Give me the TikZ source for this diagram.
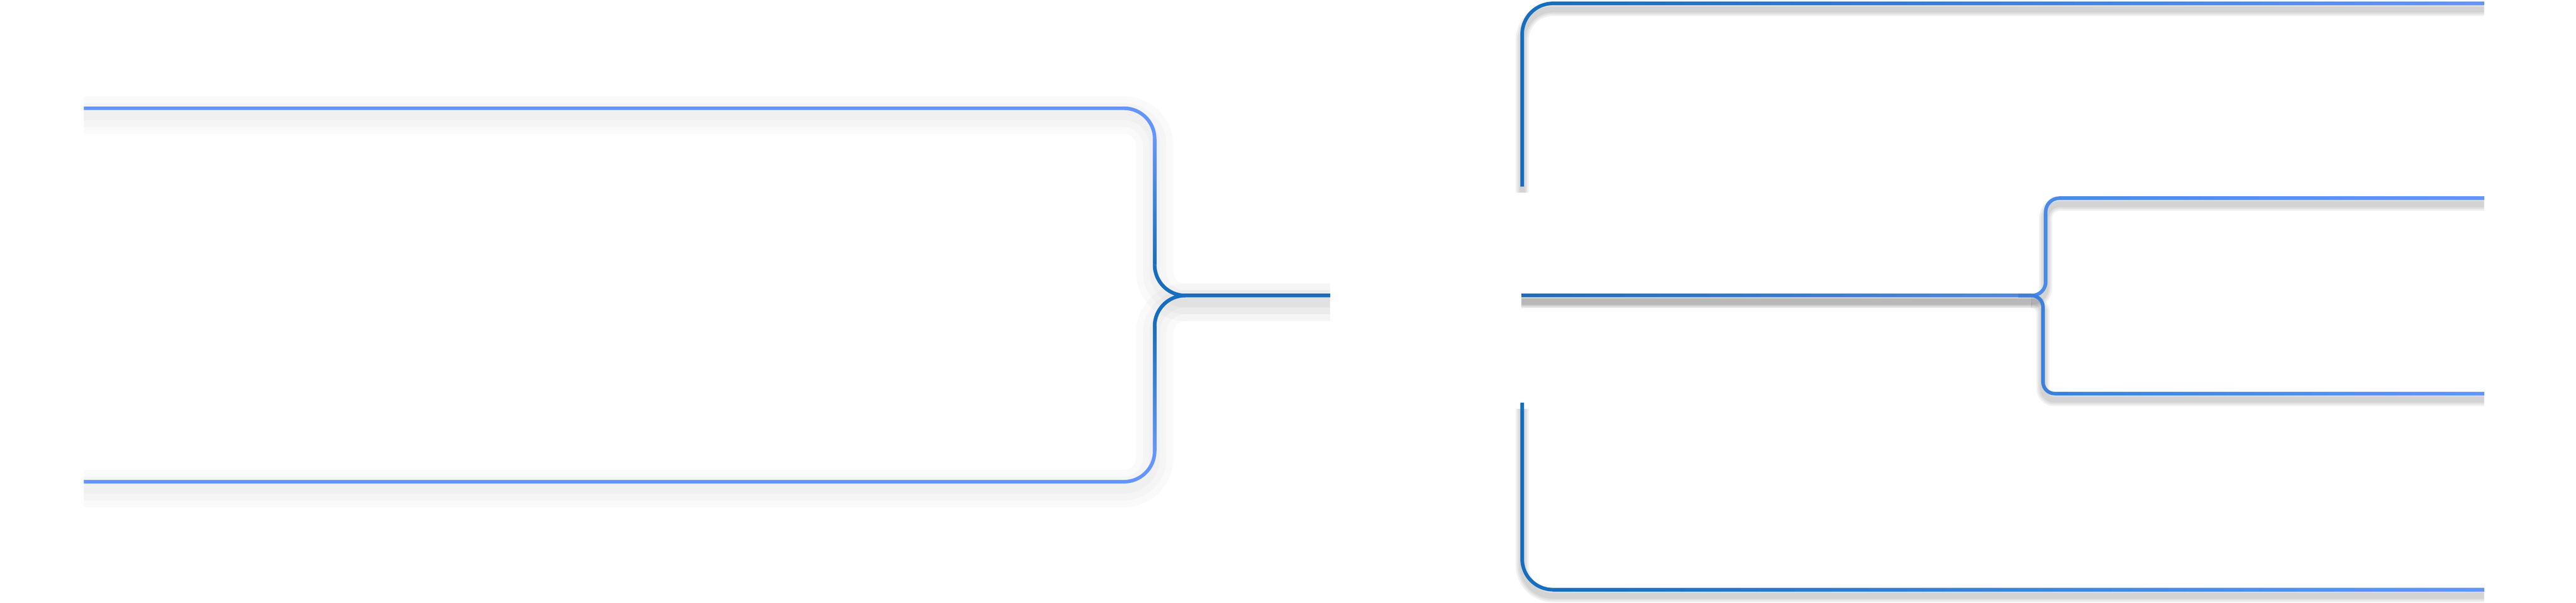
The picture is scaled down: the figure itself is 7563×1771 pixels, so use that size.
\documentclass[tikz,border=0pt]{standalone}
\definecolor{dkb}{RGB}{23,110,190}
\definecolor{ltb}{RGB}{100,149,255}
\definecolor{mdb}{RGB}{74,138,232}
\definecolor{mdc}{RGB}{60,128,220}
\tikzset{
  lw/.style={line width=1.05pt, line join=round},
  lsh/.style={draw=black, opacity=0.02, transform canvas={yshift=-2pt}},
  rsh/.style={draw=black, opacity=#1, transform canvas={yshift=-1.8pt}},
}
% horizontal gradient stroke: x1 < x2, y, colour at x1, colour at x2, pieces
\newcommand\hgrad[6]{%
  \foreach \i in {1,...,#6}{%
    \pgfmathsetmacro\dd{(#2-#1)/#6}%
    \pgfmathsetmacro\xa{#1+\dd*(\i-1)}%
    \pgfmathsetmacro\xb{min(#1+\dd*\i+3,#2)}%
    \pgfmathsetmacro\pp{100*(\i-0.5)/#6}%
    \draw[lw, draw={#5!\pp!#4}] (\xa,#3) -- (\xb,#3);
  }}
% vertical gradient stroke: x, y1 < y2, colour at y1, colour at y2, pieces
\newcommand\vgrad[6]{%
  \foreach \i in {1,...,#6}{%
    \pgfmathsetmacro\dd{(#3-#2)/#6}%
    \pgfmathsetmacro\ya{#2+\dd*(\i-1)}%
    \pgfmathsetmacro\yb{min(#2+\dd*\i+3,#3)}%
    \pgfmathsetmacro\pp{100*(\i-0.5)/#6}%
    \draw[lw, draw={#5!\pp!#4}] (#1,\ya) -- (#1,\yb);
  }}
\begin{document}
\begin{tikzpicture}[x=0.1pt, y=-0.1pt]
\fill[white] (0,0) rectangle (7563,1771);
\useasboundingbox (0,0) rectangle (7563,1771);
% named points
\coordinate (L1) at (246,318);
\coordinate (L2) at (246,1415);
\coordinate (LJ) at (3390,868);
\coordinate (LE) at (3905,868);
\coordinate (RT) at (7293,10);
\coordinate (RTv) at (4469,548);
\coordinate (RBv) at (4469,1183);
\coordinate (RB) at (7293,1732);
\coordinate (RM) at (4467,868);
\coordinate (RJ) at (5965,868);
\coordinate (SJ) at (5925,868);
\coordinate (SUv) at (6006,582);
\coordinate (SU) at (7293,582);
\coordinate (SLv) at (5998,1156);
\coordinate (SL) at (7293,1156);
% ---- shadows
\foreach \w in {3,7,11}{
  \draw[lsh, line width=\w pt, rounded corners=9pt] (L1) -| (LJ) -- (LE);
  \draw[lsh, line width=\w pt, rounded corners=9pt] (L2) -| (LJ) -- (LE);
}
\foreach \w in {1.8,2.8,3.8}{
  \draw[rsh=0.06, line width=\w pt, rounded corners=9pt] (RT) -| (RTv);
  \draw[rsh=0.06, line width=\w pt, rounded corners=9pt] (RBv) |- (RB);
  \draw[rsh=0.1, line width=\w pt] (RM) -- (RJ);
  \draw[rsh=0.06, line width=\w pt, rounded corners=4pt] (RJ) -| (SUv) -- (SU);
  \draw[rsh=0.06, line width=\w pt, rounded corners=3.3pt] (RJ) -| (SLv) -- (SL);
}
% ---- left bracket
\draw[ltb, lw, rounded corners=9pt] (L1) -| (LJ) -- (LE);
\draw[ltb, lw, rounded corners=9pt] (L2) -| (LJ) -- (LE);
\vgrad{3390}{408}{778}{ltb}{dkb}{40}
\vgrad{3390}{958}{1325}{dkb}{ltb}{40}
\draw[dkb, lw, rounded corners=9pt] (3390,778) -- (LJ) -- (3480,868);
\draw[dkb, lw, rounded corners=9pt] (3390,958) -- (LJ) -- (3480,868);
\draw[dkb, lw] (3478,868) -- (LE);
% ---- right big bracket
\draw[dkb, lw, rounded corners=9pt] (RT) -| (RTv);
\hgrad{4559}{7293}{10}{dkb}{ltb}{50}
\draw[dkb, lw, rounded corners=9pt] (RBv) |- (RB);
\hgrad{4559}{7293}{1732}{dkb}{ltb}{50}
% ---- right middle line
\hgrad{4467}{5965}{868}{dkb}{mdb}{30}
% ---- small bracket
\draw[mdb, lw, rounded corners=4pt] (SJ) -| (SUv) -- (SU);
\hgrad{6046}{7293}{582}{mdb}{ltb}{30}
\draw[mdc, lw, rounded corners=3.4pt] (SJ) -| (SLv) -- (SL);
\hgrad{6032}{7293}{1156}{mdc}{ltb}{30}
\end{tikzpicture}
\end{document}
